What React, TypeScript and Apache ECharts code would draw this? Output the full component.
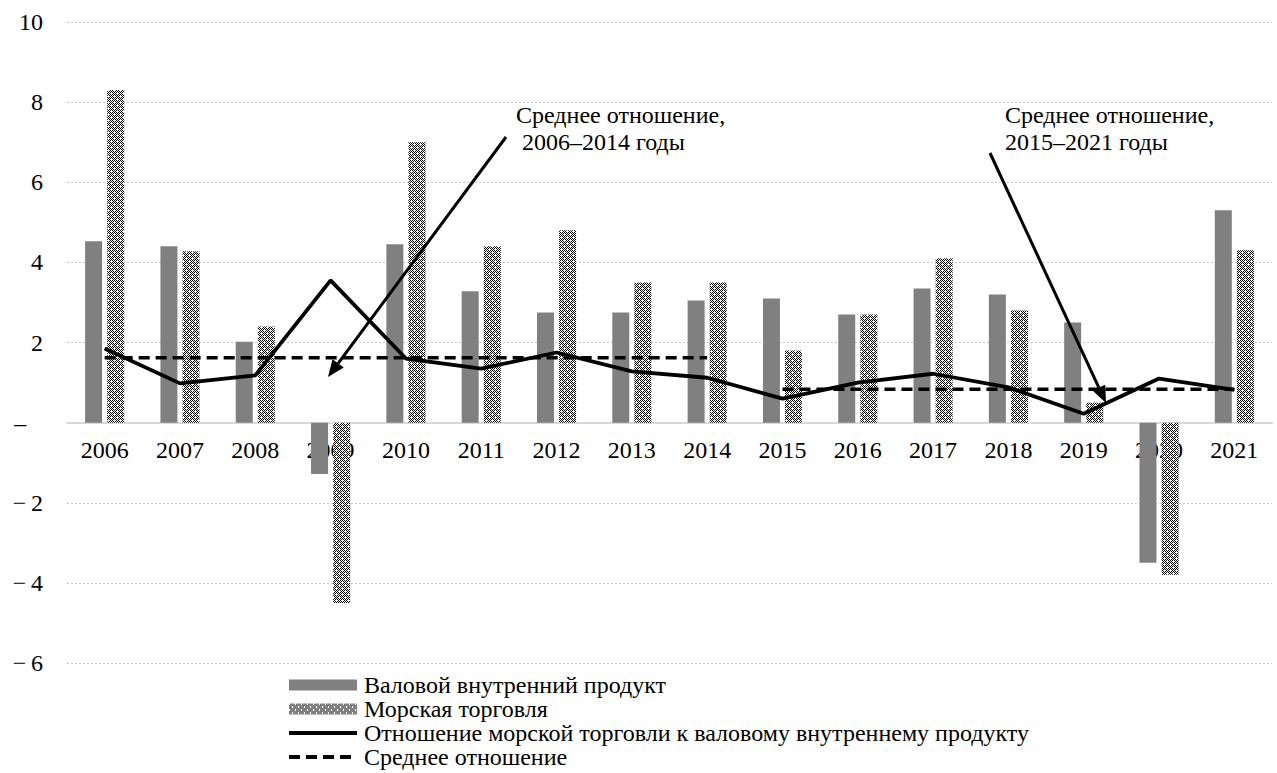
import React, { useEffect, useRef } from "react";
import * as echarts from "echarts";

const years = ["2006","2007","2008","2009","2010","2011","2012","2013","2014","2015","2016","2017","2018","2019","2020","2021"];
const gdp = [4.53, 4.4, 2.02, -1.28, 4.45, 3.28, 2.75, 2.75, 3.05, 3.1, 2.7, 3.35, 3.2, 2.5, -3.5, 5.3];
const trade = [8.3, 4.28, 2.4, -4.5, 7.0, 4.4, 4.8, 3.5, 3.5, 1.8, 2.7, 4.1, 2.8, 0.5, -3.8, 4.3];
const ratio = [1.85, 0.98, 1.18, 3.55, 1.6, 1.35, 1.75, 1.28, 1.12, 0.6, 1.0, 1.22, 0.88, 0.22, 1.1, 0.82];
const avgFirst = 1.62; // 2006–2014
const avgSecond = 0.83; // 2015–2021
const firstPeriodEnd = 8; // index of 2014
const yTicks = { min: -6, max: 10, step: 2 };

const names = [
  "Валовой внутренний продукт",
  "Морская торговля",
  "Отношение морской торговли к валовому внутреннему продукту",
  "Среднее отношение",
];
const notes = ["Среднее отношение,\n 2006–2014 годы", "Среднее отношение,\n2015–2021 годы"];

const FONT = "'Liberation Serif', 'Times New Roman', serif";

function makePattern(): HTMLCanvasElement {
  const c = document.createElement("canvas");
  c.width = 6;
  c.height = 6;
  const ctx = c.getContext("2d")!;
  ctx.fillStyle = "#fff";
  ctx.fillRect(0, 0, 6, 6);
  ctx.fillStyle = "#000";
  for (let y = 0; y < 6; y++) {
    for (let x = 0; x < 6; x++) {
      if ((x + y) % 2 === 0 && !(x === 0 && y === 0) && !(x === 3 && y === 3)) {
        ctx.fillRect(x, y, 1, 1);
      }
    }
  }
  return c;
}

function arrow(x1: number, y1: number, x2: number, y2: number) {
  const ang = Math.atan2(y2 - y1, x2 - x1);
  const len = 17;
  const half = 7;
  const bx = x2 - len * Math.cos(ang);
  const by = y2 - len * Math.sin(ang);
  const px = -Math.sin(ang) * half;
  const py = Math.cos(ang) * half;
  return [
    {
      type: "line",
      shape: { x1, y1, x2: bx, y2: by },
      style: { stroke: "#000", lineWidth: 3 },
      z: 100,
    },
    {
      type: "polygon",
      shape: { points: [[x2, y2], [bx + px, by + py], [bx - px, by - py]] },
      style: { fill: "#000" },
      z: 100,
    },
  ];
}

export default function App() {
  const ref = useRef<HTMLDivElement>(null);
  useEffect(() => {
    document.body.style.margin = "0";
    const chart = echarts.init(ref.current!, null, { renderer: "svg" });
    const pattern = makePattern();
    const avg1 = years.map((_, i) => (i <= firstPeriodEnd ? avgFirst : null));
    const avg2 = years.map((_, i) => (i > firstPeriodEnd ? avgSecond : null));
    const gridTop = 22;
    const gridBottom = 110;
    const plotH = 773 - gridTop - gridBottom;
    const zeroOffset = -(plotH * (0 - yTicks.min)) / (yTicks.max - yTicks.min);
    chart.setOption({
      animation: false,
      backgroundColor: "#fff",
      textStyle: { fontFamily: FONT },
      grid: { left: 67, right: 5, top: gridTop, bottom: gridBottom, containLabel: false },
      legend: {
        orient: "vertical",
        left: 282,
        top: 668,
        height: 140,
        itemWidth: 68,
        itemHeight: 11,
        itemGap: 0,
        data: [
          { name: names[0], icon: "rect" },
          { name: names[1], icon: "rect" },
          { name: names[2] },
          { name: names[3] },
        ],
        lineStyle: { width: 4 },
        textStyle: { fontFamily: FONT, fontSize: 24, color: "#000", padding: [0, 0, 0, 2] },
      },
      xAxis: {
        type: "category",
        data: years,
        position: "bottom",
        offset: zeroOffset,
        axisLine: { onZero: false, lineStyle: { color: "#d9d9d9", width: 2 } },
        axisTick: { show: false },
        axisLabel: { fontFamily: FONT, fontSize: 24, color: "#000", margin: 15 },
        z: 1,
      },
      yAxis: {
        type: "value",
        min: yTicks.min,
        max: yTicks.max,
        interval: yTicks.step,
        axisLine: { show: false },
        axisTick: { show: false },
        splitLine: { lineStyle: { color: "#c8c8c8", type: [2, 2], width: 1 } },
        axisLabel: {
          fontFamily: FONT,
          fontSize: 24,
          color: "#000",
          margin: 24,
          formatter: (v: number) =>
            v === 0 ? "–\u2009\u2007" : v < 0 ? "\u2212\u2009" + String(-v) : String(v),
        },
      },
      series: [
        {
          name: names[0],
          type: "bar",
          data: gdp,
          barWidth: 17,
          barGap: "30%",
          itemStyle: { color: "#808080" },
          z: 2,
        },
        {
          name: names[1],
          type: "bar",
          data: trade,
          barWidth: 17,
          barGap: "30%",
          itemStyle: { color: { image: pattern, repeat: "repeat" } as any },
          z: 2,
        },
        {
          name: names[2],
          type: "line",
          data: ratio,
          symbol: "none",
          lineStyle: { color: "#000", width: 3.8 },
          itemStyle: { color: "rgba(0,0,0,0)" },
          z: 5,
        },
        {
          name: names[3],
          type: "line",
          data: avg1,
          symbol: "none",
          lineStyle: { color: "#000", width: 3.5, type: [11, 6] },
          itemStyle: { color: "rgba(0,0,0,0)" },
          z: 4,
        },
        {
          name: names[3],
          type: "line",
          data: avg2,
          symbol: "none",
          lineStyle: { color: "#000", width: 3.5, type: [11, 6] },
          itemStyle: { color: "rgba(0,0,0,0)" },
          z: 4,
        },
      ],
      graphic: [
        {
          type: "text",
          left: 516,
          top: 101,
          z: 100,
          style: { text: notes[0], font: `24px ${FONT}`, fill: "#000", lineHeight: 27 },
        },
        {
          type: "text",
          left: 1005,
          top: 101,
          z: 100,
          style: { text: notes[1], font: `24px ${FONT}`, fill: "#000", lineHeight: 27 },
        },
        ...arrow(506, 137, 328, 377),
        ...arrow(990, 153, 1106, 403),
      ],
    });
    return () => chart.dispose();
  }, []);
  return <div ref={ref} style={{ width: 1277, height: 773 }} />;
}
